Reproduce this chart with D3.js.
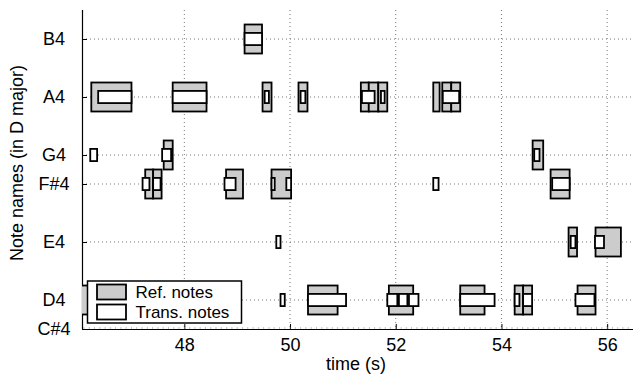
<!DOCTYPE html>
<html>
<head>
<meta charset="utf-8">
<script src="https://cdn.jsdelivr.net/npm/d3@7"></script>
<style>
  body { margin: 0; background: #fff; }
  text { font-family: "Liberation Sans", Arial, sans-serif; }
</style>
</head>
<body>
<svg id="roll"></svg>
<script>
// note names on the y axis (midi numbers)
const noteNames = ["C#4", "D4", "E4", "F#4", "G4", "A4", "B4"];
const noteMidi = [61, 62, 64, 66, 67, 69, 71];
const timeTicks = [48, 50, 52, 54, 56];

// reference notes: [midi, onset, offset]
const refNotes = [
    [71, 49.14, 49.47],
    [69, 46.24, 47.00], [69, 47.78, 48.42], [69, 49.48, 49.65], [69, 50.16, 50.33],
    [69, 51.34, 51.49], [69, 51.49, 51.67], [69, 51.67, 51.84],
    [69, 52.71, 52.83], [69, 52.88, 53.05], [69, 53.05, 53.22],
    [67, 47.61, 47.78], [67, 54.59, 54.79],
    [66, 47.26, 47.41], [66, 47.41, 47.57], [66, 48.79, 49.11], [66, 49.65, 50.02], [66, 54.93, 55.29],
    [64, 55.27, 55.43], [64, 55.78, 56.26],
    [62, 45.90, 46.40], [62, 50.34, 50.90], [62, 51.87, 52.33], [62, 53.22, 53.68],
    [62, 54.25, 54.41], [62, 54.41, 54.58], [62, 55.44, 55.78]
];

// transcribed notes: [midi, onset, offset]
const transNotes = [
    [71, 49.14, 49.47],
    [69, 46.37, 47.00], [69, 47.78, 48.42], [69, 49.52, 49.60], [69, 50.20, 50.29],
    [69, 51.36, 51.60], [69, 51.72, 51.79], [69, 52.89, 53.20],
    [67, 46.22, 46.35], [67, 47.58, 47.75], [67, 54.62, 54.72],
    [66, 47.21, 47.34], [66, 47.41, 47.55], [66, 48.76, 48.97], [66, 49.65, 49.71],
    [66, 49.93, 50.02], [66, 52.71, 52.81], [66, 54.96, 55.29],
    [64, 49.74, 49.82], [64, 55.31, 55.40], [64, 55.77, 55.94],
    [62, 49.82, 49.90], [62, 50.34, 51.06], [62, 51.84, 52.03], [62, 52.06, 52.22],
    [62, 52.25, 52.43], [62, 53.22, 53.87], [62, 54.25, 54.34], [62, 54.41, 54.58], [62, 55.40, 55.76]
];

var w = 633;
var h = 375;
let margin = ({ top: 10, right: 1, bottom: 46, left: 82 });

var svg = d3.select("#roll")
    .attr("width", w)
    .attr("height", h);

var xScale = d3.scaleLinear()
    .domain([46.064, 56.47])
    .range([margin.left, w - margin.right]);

var yScale = d3.scaleLinear()
    .domain([61, 72])
    .range([h - margin.bottom, margin.top]);

svg.append("defs").append("clipPath")
    .attr("id", "plotClip")
    .append("rect")
    .attr("x", margin.left)
    .attr("y", margin.top)
    .attr("width", w - margin.left - margin.right)
    .attr("height", h - margin.top - margin.bottom);

// dotted grid
const grid = svg.append("g");
grid.selectAll("line.vg")
    .data(timeTicks)
    .join("line")
    .attr("class", "vg")
    .attr("x1", d => xScale(d)).attr("x2", d => xScale(d))
    .attr("y1", margin.top).attr("y2", h - margin.bottom)
    .attr("stroke", "#777")
    .attr("stroke-width", 1)
    .attr("stroke-dasharray", "1,3");

grid.selectAll("line.hg")
    .data(noteMidi.slice(1))
    .join("line")
    .attr("class", "hg")
    .attr("x1", margin.left).attr("x2", w - margin.right)
    .attr("y1", d => yScale(d)).attr("y2", d => yScale(d))
    .attr("stroke", "#777")
    .attr("stroke-width", 1)
    .attr("stroke-dasharray", "1,3");

// axes
let xAxis = g => g
    .attr("transform", `translate(0,${h - margin.bottom})`)
    .call(d3.axisBottom(xScale).tickValues(timeTicks).tickSize(-5).tickPadding(9).tickFormat(d3.format("d")))
    .call(g => g.select(".domain").attr("d", `M${margin.left},0.5H${w}`).attr("stroke-width", 1.2))
    .call(g => g.selectAll("text").attr("font-size", 18).attr("fill", "#000"));

svg.append("g").call(xAxis);

// little minor ticks on the time axis
svg.append("g")
    .selectAll("line")
    .data(d3.range(461, 565).map(d => d / 10))
    .join("line")
    .attr("x1", d => xScale(d)).attr("x2", d => xScale(d))
    .attr("y1", h - margin.bottom - 2).attr("y2", h - margin.bottom)
    .attr("stroke", "#999")
    .attr("stroke-width", 0.6);

let yAxis = g => g
    .attr("transform", `translate(${margin.left},0)`)
    .call(d3.axisLeft(yScale).tickValues(noteMidi).tickSize(-5).tickPadding(10)
        .tickFormat((d, i) => noteNames[i]))
    .call(g => g.select(".domain").attr("d", `M0.5,${margin.top}V${h - margin.bottom}`).attr("stroke-width", 1.2))
    .call(g => g.selectAll("text").attr("font-size", 18).attr("fill", "#000")
        .attr("text-anchor", "middle").attr("x", 54 - margin.left));

svg.append("g").call(yAxis);

// note boxes
const boxes = svg.append("g").attr("clip-path", "url(#plotClip)");

boxes.append("g")
    .selectAll("rect")
    .data(refNotes)
    .join("rect")
    .attr("x", d => xScale(d[1]))
    .attr("y", d => yScale(d[0] + 0.5))
    .attr("width", d => xScale(d[2]) - xScale(d[1]))
    .attr("height", d => yScale(d[0] - 0.5) - yScale(d[0] + 0.5))
    .attr("fill", "#cccccc")
    .attr("stroke", "#000")
    .attr("stroke-width", 1.8);

boxes.append("g")
    .selectAll("rect")
    .data(transNotes)
    .join("rect")
    .attr("x", d => xScale(d[1]))
    .attr("y", d => yScale(d[0] + 0.21))
    .attr("width", d => xScale(d[2]) - xScale(d[1]))
    .attr("height", d => yScale(d[0] - 0.21) - yScale(d[0] + 0.21))
    .attr("fill", "#fff")
    .attr("stroke", "#000")
    .attr("stroke-width", 1.8);

// axis titles
svg.append("text")
    .attr("x", 356)
    .attr("y", 370)
    .attr("text-anchor", "middle")
    .attr("font-size", 18)
    .text("time (s)");

svg.append("text")
    .attr("transform", "translate(23,163) rotate(-90)")
    .attr("text-anchor", "middle")
    .attr("font-size", 18)
    .text("Note names (in D major)");

// legend
const legend = svg.append("g");
legend.append("rect")
    .attr("x", 87.5).attr("y", 281)
    .attr("width", 154).attr("height", 42)
    .attr("fill", "#fff")
    .attr("stroke", "#000")
    .attr("stroke-width", 1.5);

const legendItems = [["Ref. notes", "#cccccc"], ["Trans. notes", "#fff"]];
legend.selectAll("rect.sw")
    .data(legendItems)
    .join("rect")
    .attr("class", "sw")
    .attr("x", 97).attr("y", (d, i) => 284.5 + i * 20)
    .attr("width", 29).attr("height", 15)
    .attr("fill", d => d[1])
    .attr("stroke", "#000")
    .attr("stroke-width", 1.8);

legend.selectAll("text")
    .data(legendItems)
    .join("text")
    .attr("x", 135.5).attr("y", (d, i) => 298 + i * 19.5)
    .attr("font-size", 17)
    .text(d => d[0]);
</script>
</body>
</html>
